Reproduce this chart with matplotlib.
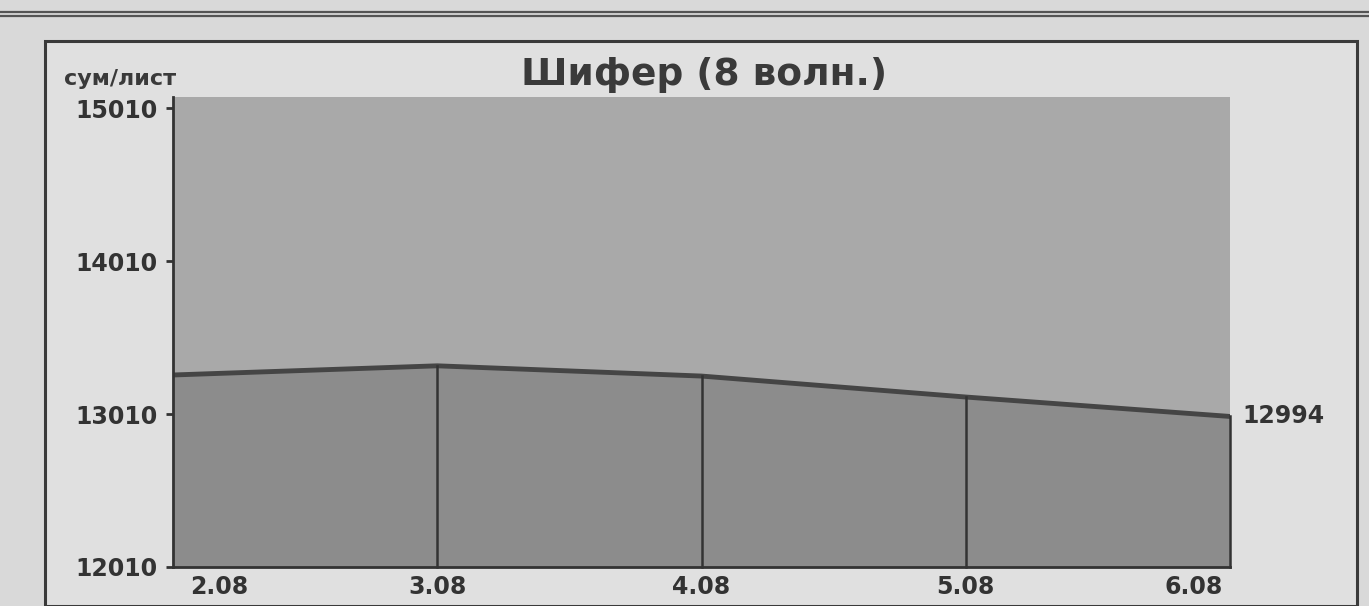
import matplotlib.pyplot as plt
import matplotlib.patches as mpatches
import matplotlib.transforms as mtransforms
from matplotlib.lines import Line2D
import numpy as np

dates = ['2.08', '3.08', '4.08', '5.08', '6.08']
prices = [13265, 13325, 13258, 13121, 12994]
yticks = [12010, 13010, 14010, 15010]

W, H = 1369, 606
fig = plt.figure(figsize=(W / 100, H / 100), dpi=100)
fig.patch.set_facecolor('#d9d9d9')

def px(x, y):
    return x / W, 1 - y / H

# newspaper frame
for yy in (12, 16):
    fig.add_artist(Line2D([0, 1], [1 - yy / H] * 2, color='#555555', lw=1.6, zorder=-1))
fig.add_artist(mpatches.Rectangle(px(45, 606), (1357 - 45) / W, (606 - 41) / H,
                                  facecolor='#e0e0e0', edgecolor='#3a3a3a', lw=2.2,
                                  zorder=-1))

ax = fig.add_axes([173 / W, 1 - 567 / H, 1057 / W, 470 / H])
ax.set_facecolor('#a9a9a9')
x = np.arange(len(dates))
ax.fill_between(x, 12010, prices, color='#8c8c8c', lw=0)
ax.plot(x, prices, color='#454545', lw=3.5)
for xi, p in zip(x[1:], prices[1:]):
    ax.plot([xi, xi], [12010, p], color='#333333', lw=1.8, clip_on=False)

ax.set_xlim(0, len(dates) - 1)
ax.set_ylim(12010, 15082)
ax.set_yticks(yticks)
ax.set_yticklabels([str(t) for t in yticks])
ax.set_xticks(x)
ax.set_xticklabels(dates)
ax.spines['top'].set_visible(False)
ax.spines['right'].set_visible(False)
for s in ['left', 'bottom']:
    ax.spines[s].set_color('#333333')
    ax.spines[s].set_linewidth(2)
ax.tick_params(axis='y', length=5, width=2, color='#333333', pad=6,
               labelsize=17, labelcolor='#333333')
ax.tick_params(axis='x', length=0, pad=6, labelsize=17, labelcolor='#333333')
for lab in ax.get_xticklabels() + ax.get_yticklabels():
    lab.set_fontweight('bold')
xl = ax.get_xticklabels()
xl[0].set_ha('left')
xl[0].set_transform(xl[0].get_transform() +
                    mtransforms.ScaledTranslation(17 / 100, 0, fig.dpi_scale_trans))
xl[-1].set_ha('right')
xl[-1].set_transform(xl[-1].get_transform() +
                     mtransforms.ScaledTranslation(-7 / 100, 0, fig.dpi_scale_trans))

ax.text(1.012, prices[-1], str(prices[-1]), transform=ax.get_yaxis_transform(),
        ha='left', va='center', fontsize=17, fontweight='bold', color='#333333')

fig.text(704 / W, 1 - 75 / H, 'Шифер (8 волн.)', ha='center', va='center',
         fontsize=27, fontweight='bold', color='#3a3a3a')
fig.text(64 / W, 1 - 79 / H, 'сум/лист', ha='left', va='center',
         fontsize=16, fontweight='bold', color='#3a3a3a')

fig.savefig('out.png', dpi=100, facecolor=fig.get_facecolor())
